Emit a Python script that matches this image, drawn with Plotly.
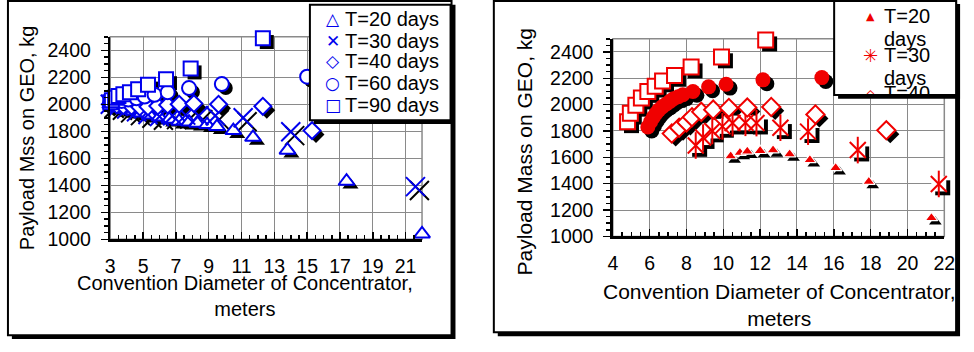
import plotly.graph_objects as go

W, H = 974, 352

# ---------------- data (left panel) ----------------
L20_x = [3.0, 3.3, 3.6, 4.0, 4.4, 4.9, 5.4, 6.0, 6.6, 7.2, 7.8, 8.3, 8.9, 9.5, 10.5, 11.7, 13.8, 17.4, 22.0]
L20_y = [2000, 1990, 1980, 1965, 1950, 1935, 1920, 1905, 1890, 1875, 1868, 1860, 1850, 1835, 1805, 1755, 1660, 1430, 1040]
L30_x = [3.0, 3.5, 4.0, 4.6, 5.3, 6.0, 6.8, 7.6, 8.4, 9.4, 11.1, 14.0, 21.6]
L30_y = [2000, 1985, 1965, 1945, 1925, 1910, 1915, 1920, 1915, 1915, 1900, 1797, 1390]
L40_x = [3.0, 3.4, 3.8, 4.3, 4.8, 5.3, 5.9, 6.5, 7.2, 8.1, 9.6, 12.3, 15.3]
L40_y = [2000, 1995, 1990, 1985, 1980, 1982, 1988, 1995, 2000, 2005, 2000, 1985, 1805]
L60_x = [3.0, 3.3, 3.7, 4.1, 4.6, 5.1, 5.7, 6.5, 7.8, 9.8, 15.0]
L60_y = [2005, 2015, 2025, 2035, 2045, 2058, 2070, 2090, 2120, 2150, 2205]
L90_x = [3.0, 3.1, 3.3, 3.5, 3.8, 4.2, 4.7, 5.3, 6.4, 7.9, 12.3]
L90_y = [2015, 2030, 2048, 2062, 2075, 2090, 2112, 2145, 2185, 2265, 2490]

# ---------------- data (right panel) ----------------
R20_x = [10.4, 10.9, 11.3, 12.0, 12.7, 13.6, 14.7, 16.1, 17.9, 21.3, 22.05]
R20_y = [1610, 1635, 1645, 1650, 1655, 1625, 1580, 1520, 1415, 1140, 1040]
R30_x = [8.5, 8.9, 9.4, 9.95, 10.5, 11.2, 11.8, 13.1, 14.6, 17.3, 21.7]
R30_y = [1690, 1750, 1800, 1835, 1860, 1862, 1860, 1825, 1795, 1655, 1398]
R40_x = [7.2, 7.6, 8.0, 8.3, 8.8, 9.45, 10.3, 11.3, 12.6, 15.0, 18.85]
R40_y = [1780, 1825, 1865, 1905, 1945, 1962, 1975, 1978, 1982, 1925, 1805]
R60_x = [5.9, 6.05, 6.2, 6.35, 6.5, 6.7, 6.9, 7.1, 7.3, 7.55, 7.8, 8.35, 9.2, 10.15, 12.15, 15.35]
R60_y = [1830, 1870, 1905, 1935, 1960, 1985, 2005, 2025, 2045, 2060, 2075, 2100, 2135, 2155, 2188, 2205]
R90_x = [4.8, 4.95, 5.25, 5.55, 5.9, 6.3, 6.7, 7.35, 8.25, 9.9, 12.3]
R90_y = [1870, 1935, 1995, 2050, 2100, 2140, 2180, 2222, 2285, 2362, 2490]

# ---------------- texts ----------------
LEFT_NAMES = ["T=20 days", "T=30 days", "T=40 days", "T=60 days", "T=90 days"]
RIGHT_NAMES = ["T=20 days", "T=30 days", "T=40 days"]
L_YTITLE = "Payload Mss on GEO, kg"
R_YTITLE = "Payload Mass on GEO, kg"
XTITLE = "Convention Diameter of Concentrator,<br>meters"

# ---------------- styling ----------------
BLUE = '#0000EE'
RED = '#F00000'
GRID = '#8a8a8a'
FONT = 'Liberation Sans, Arial, Helvetica, sans-serif'
GLYPH_FONT = 'DejaVu Sans'

L_BOX = (107, 424, 38, 247)   # plot area pixels: x0, x1, ytop, ybottom
R_BOX = (618, 955, 40, 244)
LX_RANGE, LY_RANGE = [3, 22], [1000, 2500]
RX_RANGE, RY_RANGE = [4, 22], [1000, 2500]
SHADOW = 4  # px


def px(x):
    return x / W


def py(y):
    return 1 - y / H


def dom(box):
    x0, x1, yt, yb = box
    return [px(x0), px(x1)], [py(yb), py(yt)]


def shifted(rng, npx, d, sign):
    per = (rng[1] - rng[0]) / npx
    return [rng[0] + sign * d * per, rng[1] + sign * d * per]


fig = go.Figure()


def add(x, y, xa, ya, symbol, size, color, lcolor='black', lw=0):
    fig.add_trace(go.Scatter(
        x=x, y=y, xaxis=xa, yaxis=ya, mode='markers', cliponaxis=False,
        showlegend=False, hoverinfo='skip',
        marker=dict(symbol=symbol, size=size, color=color,
                    line=dict(color=lcolor, width=lw))))


# ---- left: shadows on base axes (x, y) ----
left = [
    (L20_x, L20_y, 'triangle-up', 14),
    (L30_x, L30_y, 'x-thin-open', 19),
    (L40_x, L40_y, 'diamond', 13),
    (L60_x, L60_y, 'circle', 14),
    (L90_x, L90_y, 'square', 14),
]
for x, y, sym, s in left:
    if sym.endswith('open'):
        add(x, y, 'x', 'y', sym, s, 'black', lw=2)
    else:
        add(x, y, 'x', 'y', sym, s, 'black')
for x, y, sym, s in left:
    if sym.endswith('open'):
        add(x, y, 'x3', 'y3', sym, s, BLUE, lw=2)
    else:
        add(x, y, 'x3', 'y3', sym, s, 'white', BLUE, 2)

# ---- right: shadows on base axes (x2, y2) ----
add(R20_x, R20_y, 'x2', 'y2', 'triangle-up', 11, 'black')
add(R30_x, R30_y, 'x2', 'y2', 'square', 15, 'black')
add(R40_x, R40_y, 'x2', 'y2', 'diamond', 14, 'black')
add(R60_x, R60_y, 'x2', 'y2', 'circle', 15, 'black')
add(R90_x, R90_y, 'x2', 'y2', 'square', 15, 'black')

add(R20_x, R20_y, 'x4', 'y4', 'triangle-up', 11, RED, 'white', 1.2)
add(R30_x, R30_y, 'x4', 'y4', 'square', 15, 'white')
add(R30_x, R30_y, 'x4', 'y4', 'x-thin-open', 16, RED, lw=2)
add(R30_x, R30_y, 'x4', 'y4', 'line-ns-open', 19, RED, lw=2)
add(R40_x, R40_y, 'x4', 'y4', 'diamond', 14, 'white', RED, 2)
add(R60_x, R60_y, 'x4', 'y4', 'circle', 15, RED)
add(R90_x, R90_y, 'x4', 'y4', 'square', 15, 'white', RED, 2)

ldx, ldy = dom(L_BOX)
rdx, rdy = dom(R_BOX)
tickfont = dict(family=FONT, size=19.5, color='black')


def vis_x(rng, tick0):
    return dict(range=rng, tickmode='linear', tick0=tick0, dtick=2,
                showgrid=True, gridcolor=GRID, gridwidth=1, zeroline=False,
                showline=True, linecolor='black', linewidth=2.5,
                ticks='inside', ticklen=7, tickwidth=1.5, tickcolor='black',
                minor=dict(tick0=tick0, dtick=0.5, ticks='inside', ticklen=4,
                           tickwidth=1.5, tickcolor='black', showgrid=False),
                tickfont=tickfont, ticklabelstandoff=8, fixedrange=True)


def vis_y(rng):
    return dict(range=rng, tickmode='linear', tick0=1000, dtick=200,
                showgrid=True, gridcolor=GRID, gridwidth=1, zeroline=False,
                showline=True, linecolor='black', linewidth=2.5,
                ticks='outside', ticklen=7, tickwidth=1.5, tickcolor='black',
                minor=dict(tick0=1000, dtick=50, ticks='outside', ticklen=4,
                           tickwidth=1.5, tickcolor='black', showgrid=False),
                tickfont=tickfont, ticklabelstandoff=6, fixedrange=True)


layout = dict(
    width=W, height=H, autosize=False,
    margin=dict(l=0, r=0, t=0, b=0, pad=0),
    paper_bgcolor='white', plot_bgcolor='rgba(0,0,0,0)',
    showlegend=False,
    xaxis=dict(domain=ldx, anchor='y', visible=False,
               range=shifted(LX_RANGE, L_BOX[1] - L_BOX[0], SHADOW, -1)),
    yaxis=dict(domain=ldy, anchor='x', visible=False,
               range=shifted(LY_RANGE, L_BOX[3] - L_BOX[2], SHADOW, 1)),
    xaxis2=dict(domain=rdx, anchor='y2', visible=False,
                range=shifted(RX_RANGE, R_BOX[1] - R_BOX[0], SHADOW, -1)),
    yaxis2=dict(domain=rdy, anchor='x2', visible=False,
                range=shifted(RY_RANGE, R_BOX[3] - R_BOX[2], SHADOW, 1)),
    xaxis3=dict(overlaying='x', anchor='y3', **vis_x(LX_RANGE, 3)),
    yaxis3=dict(overlaying='y', anchor='x3', **vis_y(LY_RANGE)),
    xaxis4=dict(overlaying='x2', anchor='y4', **vis_x(RX_RANGE, 4)),
    yaxis4=dict(overlaying='y2', anchor='x4', **vis_y(RY_RANGE)),
)
fig.update_layout(**layout)


def rect(x0, y0, x1, y1, fill, line=None, lw=0, layer='below'):
    fig.add_shape(type='rect', xref='paper', yref='paper',
                  x0=px(x0), x1=px(x1), y0=py(y1), y1=py(y0),
                  fillcolor=fill, line=dict(color=line or fill, width=lw),
                  layer=layer)


# panel frames with shadows
rect(7, 5, 458, 350, 'black')
rect(3, 1, 454, 346, 'white', 'black', 2)
rect(501, 4, 971, 347, 'black')
rect(497, 1, 967, 343, 'white', 'black', 2)
# plot-area outlines (top/right grey)
rect(L_BOX[0], L_BOX[2], L_BOX[1], L_BOX[3], 'rgba(0,0,0,0)', GRID, 1.5)
rect(R_BOX[0], R_BOX[2], R_BOX[1], R_BOX[3], 'rgba(0,0,0,0)', GRID, 1.5)
# legend boxes with shadows (above data)
rect(314, 9, 457, 128, 'black', layer='above')
rect(310, 5, 453, 124, 'white', 'black', 2, layer='above')
rect(847, 4, 971, 102, 'black', layer='above')
rect(843, 1, 967, 98, 'white', 'black', 2, layer='above')


def ann(text, x, y, size, color='black', xanchor='center', yanchor='middle',
        angle=0, family=FONT, weight='normal', **kw):
    fig.add_annotation(text=text, x=px(x), y=py(y), xref='paper', yref='paper',
                       xanchor=xanchor, yanchor=yanchor, showarrow=False,
                       textangle=angle,
                       font=dict(family=family, size=size, color=color, weight=weight),
                       borderpad=0, **kw)


# axis titles
ann(L_YTITLE, 22, 142, 20, angle=-90)
ann(XTITLE, 244, 306, 20)
ann(R_YTITLE, 528, 157, 21, angle=-90)
ann(XTITLE, 787, 315, 21)

# left legend
L_GLYPHS = ['△', '✕', '◇', '○', '□']
L_ROWS = [20, 42, 63, 86, 108]
for g, name, yy in zip(L_GLYPHS, LEFT_NAMES, L_ROWS):
    ann(g, 333, yy, 17, BLUE, family=GLYPH_FONT, weight='bold')
    ann(name, 345, yy, 20, xanchor='left')

# right legend (text wrapped, clipped at the bottom, like the original)
r0 = RIGHT_NAMES[0].split(' ')
r1 = RIGHT_NAMES[1].split(' ')
r2 = RIGHT_NAMES[2].split(' ')
ann('▲', 880, 17, 11, RED, family=GLYPH_FONT)
ann(r0[0], 893, 17, 20, xanchor='left')
ann(r0[1], 893, 40, 20, xanchor='left')
ann('✳', 880, 57, 18, RED, family=GLYPH_FONT, weight='bold')
ann(r1[0], 893, 57, 20, xanchor='left')
ann(r1[1], 893, 80, 20, xanchor='left')
ann('◇', 880, 98, 17, RED, family=GLYPH_FONT, weight='bold', yanchor='bottom',
    height=9, valign='top')
ann(r2[0], 893, 98, 20, xanchor='left', yanchor='bottom', height=12,
    valign='top', align='left')

fig.write_html(
    "out.html",
    config={'displayModeBar': False, 'staticPlot': True},
    post_script=(
        "document.body.style.margin='0px';"
        "document.body.style.overflow='hidden';"
    ))
